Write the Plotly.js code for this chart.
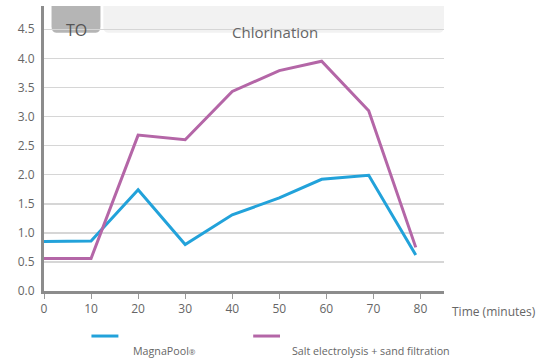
<!DOCTYPE html>
<html>
<head>
<meta charset="utf-8">
<script src="https://cdn.plot.ly/plotly-3.0.1.min.js"></script>
<style>html,body{margin:0;padding:0;background:#fff;}#chart{width:548px;height:359px;}</style>
</head>
<body>
<div id="chart"></div>
<script>
// Data
const timeMinutes = [0, 10, 20, 30, 40, 50, 59, 69, 79];
const magnaPool   = [0.85, 0.86, 1.74, 0.80, 1.31, 1.60, 1.92, 1.99, 0.62];
const saltSand    = [0.56, 0.56, 2.68, 2.60, 3.43, 3.79, 3.95, 3.10, 0.75];
const seriesNames = ["MagnaPool<span style='font-size:8px'>®</span>", "Salt electrolysis + sand filtration"];
const seriesColors = ['#22a2da', '#b466a7'];
const xTicks = [0, 10, 20, 30, 40, 50, 60, 70, 80];
const yTicks = [0, 0.5, 1.0, 1.5, 2.0, 2.5, 3.0, 3.5, 4.0, 4.5];
const phaseLabels = ["TO", "Chlorination"];

const FONT = "Open Sans, Noto Sans, sans-serif";

const traces = [
  {x: timeMinutes, y: magnaPool, type: 'scatter', mode: 'lines',
   name: seriesNames[0], line: {color: seriesColors[0], width: 3}},
  {x: timeMinutes, y: saltSand, type: 'scatter', mode: 'lines',
   name: seriesNames[1], line: {color: seriesColors[1], width: 3}}
];

// legend drawn manually (symbol above, label below-right)
const legendPos = [{x0: 0.1186, x1: 0.186, tx: 0.2185}, {x0: 0.523, x1: 0.590, tx: 0.615}];
const legendShapes = legendPos.map((p, i) => ({
  type: 'line', xref: 'paper', yref: 'paper', x0: p.x0, x1: p.x1, y0: -0.158, y1: -0.158,
  line: {color: seriesColors[i], width: 3}
}));
const legendTexts = legendPos.map((p, i) => ({
  xref: 'paper', yref: 'paper', x: p.tx, y: -0.212, xanchor: 'left', yanchor: 'middle',
  text: seriesNames[i], showarrow: false, font: {size: 10.7, color: '#666', family: FONT}
}));

const layout = {
  width: 548, height: 359,
  margin: {l: 43.5, r: 104, t: 6, b: 68},
  paper_bgcolor: '#fff', plot_bgcolor: '#fff',
  font: {family: FONT, size: 12, color: '#666'},
  showlegend: false,
  xaxis: {
    range: [0, 85], tickvals: xTicks, ticktext: xTicks.map(String),
    showgrid: false, zeroline: false,
    showline: true, linecolor: '#8c8c8c', linewidth: 3,
    ticks: 'outside', ticklen: 5, tickcolor: '#999', tickwidth: 1,
    tickfont: {size: 12, color: '#666'}
  },
  yaxis: {
    range: [0, 4.9], tickvals: yTicks, ticktext: yTicks.map(v => v.toFixed(1)),
    showgrid: true, gridcolor: '#d6d6d6', gridwidth: 1.5,
    zeroline: false, showline: true, linecolor: '#8c8c8c', linewidth: 3,
    ticks: '', ticklabelstandoff: 4,
    tickfont: {size: 12, color: '#666'}
  },
  shapes: [
    {type: 'path', layer: 'below', xref: 'x', yref: 'y', line: {width: 0},
     fillcolor: '#b5b5b5',
     path: 'M 1.6,4.92 L 12,4.92 L 12,4.55 Q 12,4.44 11.0,4.44 L 2.6,4.44 Q 1.6,4.44 1.6,4.55 Z'},
    {type: 'path', layer: 'below', xref: 'x', yref: 'y', line: {width: 0},
     fillcolor: '#f2f2f2',
     path: 'M 12.6,4.92 L 85,4.92 L 85,4.55 Q 85,4.44 84.0,4.44 L 13.6,4.44 Q 12.6,4.44 12.6,4.55 Z'}
  ].concat(legendShapes),
  annotations: [
    {x: 6.8, y: 4.49, xref: 'x', yref: 'y', text: phaseLabels[0], showarrow: false,
     font: {size: 16, color: '#555', family: FONT}},
    {x: 49, y: 4.46, xref: 'x', yref: 'y', text: phaseLabels[1], showarrow: false,
     font: {size: 15, color: '#666', family: FONT}},
    {x: 1, xref: 'paper', xanchor: 'left', xshift: 6, y: 0, yref: 'paper', yanchor: 'top', yshift: -10,
     text: 'Time (minutes)', showarrow: false, font: {size: 12, color: '#666', family: FONT}}
  ].concat(legendTexts)
};

Plotly.newPlot('chart', traces, layout, {displayModeBar: false, staticPlot: true});
</script>
</body>
</html>
